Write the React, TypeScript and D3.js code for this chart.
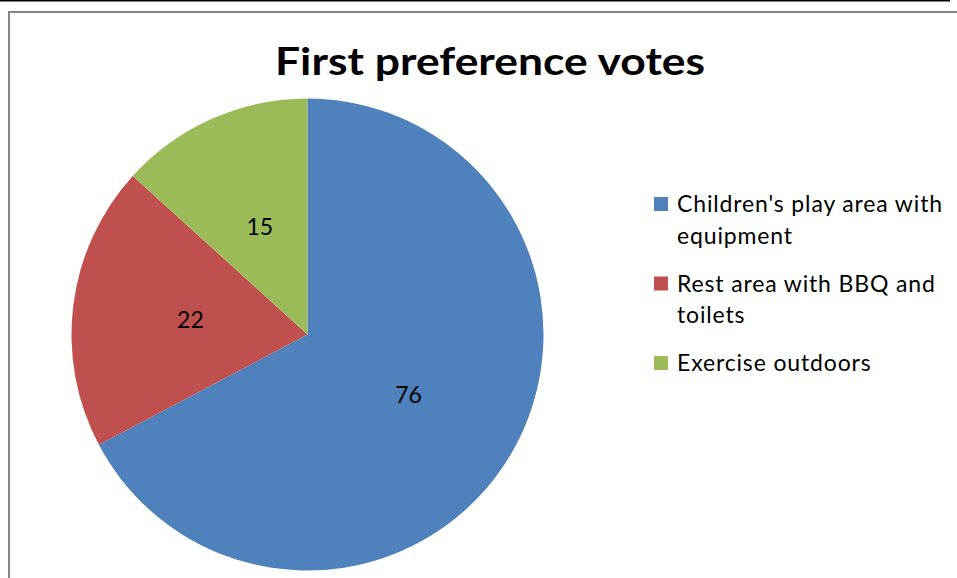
import React from "react";
import * as d3 from "d3";

const categories = ["Children's play area with equipment", "Rest area with BBQ and toilets", "Exercise outdoors"];
const legendLines = [["Children's play area with", "equipment"], ["Rest area with BBQ and", "toilets"], ["Exercise outdoors"]];
const values = [76, 22, 15];
const colors = ["#4F81BD", "#C0504D", "#9BBB59"];
const title = "First preference votes";

const W = 957;
const H = 578;

export default function App() {
  const cx = 307.5;
  const cy = 334.5;
  const r = 236;
  const pie = d3.pie<number>().sort(null).value((d) => d);
  const arcs = pie(values);
  const arc = d3.arc<d3.PieArcDatum<number>>().innerRadius(0).outerRadius(r);

  const font = "Lato, 'Open Sans', sans-serif";
  const legendX = 654;
  const lineGap = 31.5;
  const itemGap = 48;
  let y = 212;
  const legendItems = legendLines.map((lines, i) => {
    const base = y;
    y += (lines.length - 1) * lineGap + itemGap;
    return { lines, base, i };
  });

  return (
    <svg width={W} height={H} style={{ position: "absolute", left: 0, top: 0 }}>
      <rect x={0} y={0} width={W} height={H} fill="#fff" />
      <line x1={0} x2={950} y1={0.75} y2={0.75} stroke="#000" strokeWidth={1.5} />
      <line x1={8} x2={W} y1={12} y2={12} stroke="#868686" strokeWidth={2} />
      <line x1={9} x2={9} y1={11} y2={H} stroke="#868686" strokeWidth={2} />
      <text x={490} y={75} textAnchor="middle" fontFamily={font} fontWeight="bold" fontSize={38} fill="#000" textLength={430} lengthAdjust="spacingAndGlyphs">
        {title}
      </text>
      <g transform={`translate(${cx},${cy})`}>
        {arcs.map((a, i) => (
          <path key={categories[i]} d={arc(a) || ""} fill={colors[i]} />
        ))}
        {arcs.map((a, i) => {
          const [lx, ly] = arc.centroid(a);
          return (
            <text key={"l" + i} x={lx} y={ly} dy="0.35em" textAnchor="middle" fontFamily={font} fontSize={23} fill="#000">
              {values[i]}
            </text>
          );
        })}
      </g>
      {legendItems.map(({ lines, base, i }) => (
        <g key={"lg" + i}>
          <rect x={legendX} y={base - 15} width={14} height={14} fill={colors[i]} />
          {lines.map((t, j) => (
            <text key={j} x={677} y={base + j * lineGap} fontFamily={font} fontSize={23} letterSpacing={0.85} fill="#000">
              {t}
            </text>
          ))}
        </g>
      ))}
    </svg>
  );
}
